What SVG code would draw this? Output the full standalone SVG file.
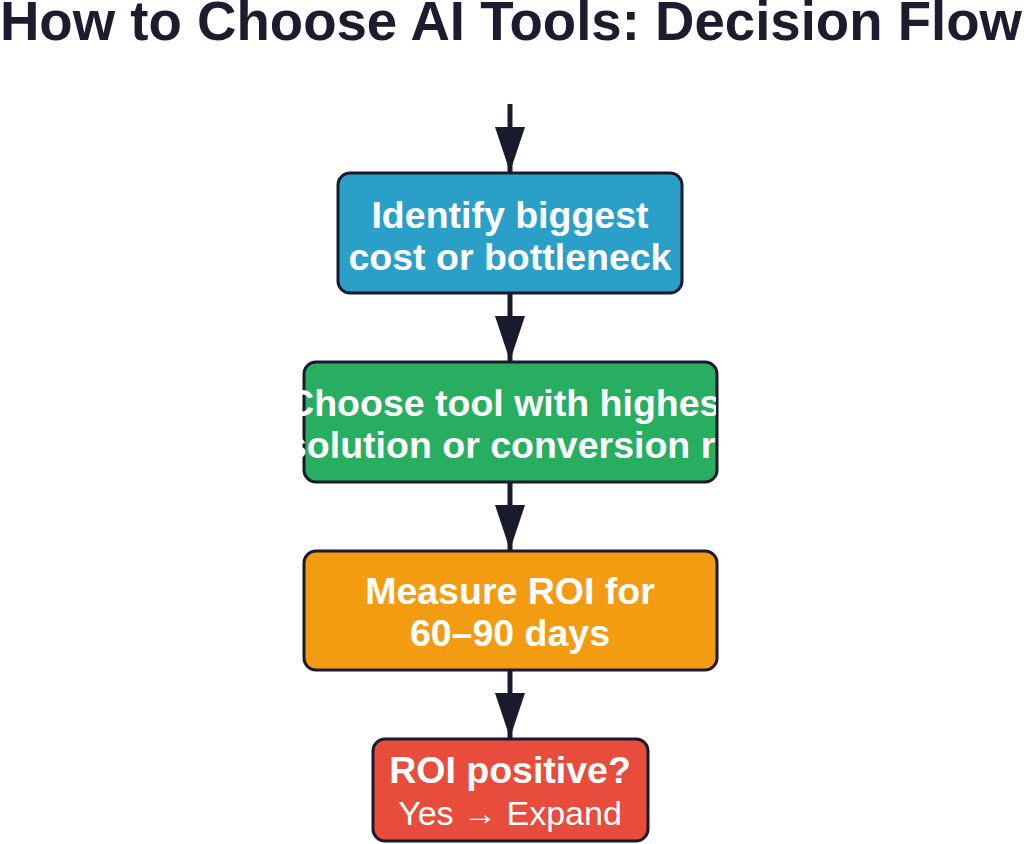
<svg xmlns="http://www.w3.org/2000/svg" width="1024" height="844" viewBox="0 0 1024 844">
<style>
.title{font-family:"Liberation Sans",Arial,sans-serif;font-weight:bold;font-size:54.6px;fill:#1c1c2e}
.box{stroke:#1a1a2e;stroke-width:3}
.lbl{font-family:"Liberation Sans",Arial,sans-serif;font-weight:bold;font-size:37.5px;fill:#ffffff;text-anchor:middle}
.lblr{font-family:"Liberation Sans",Arial,sans-serif;font-size:34px;fill:#ffffff;text-anchor:middle}
.edge{stroke:#1a1a2e;stroke-width:5;fill:none}
</style>
<defs>
<marker id="arrow" viewBox="0 0 45 30" refX="45" refY="15" markerWidth="45" markerHeight="30" markerUnits="userSpaceOnUse" orient="auto">
<path d="M0,0 L45,15 L0,30 Z" fill="#1a1a2e"/>
</marker>
<clipPath id="clip2"><rect x="292" y="362" width="424" height="120"/></clipPath>
</defs>
<rect width="1024" height="844" fill="#ffffff"/>
<text class="title" x="511" y="40" text-anchor="middle">How to Choose AI Tools: Decision Flow</text>
<g id="connectors">
<line class="edge" x1="510" y1="104" x2="510" y2="172" marker-end="url(#arrow)"/>
<line class="edge" x1="510" y1="293" x2="510" y2="361" marker-end="url(#arrow)"/>
<line class="edge" x1="510" y1="482" x2="510" y2="550" marker-end="url(#arrow)"/>
<line class="edge" x1="510" y1="670" x2="510" y2="738" marker-end="url(#arrow)"/>
</g>
<g id="node1">
<rect class="box" x="338" y="173" width="344" height="120" rx="12" fill="#2aa0c8"/>
<text class="lbl" x="510" y="228">Identify biggest</text>
<text class="lbl" x="510" y="270">cost or bottleneck</text>
</g>
<g id="node2">
<rect class="box" x="304" y="362" width="413" height="120" rx="12" fill="#27ae60"/>
<g clip-path="url(#clip2)">
<text class="lbl" x="510" y="416">Choose tool with highest</text>
<text class="lbl" x="510" y="458">resolution or conversion rate</text>
</g>
</g>
<g id="node3">
<rect class="box" x="304" y="551" width="413" height="119" rx="12" fill="#f39c12"/>
<text class="lbl" x="510" y="604">Measure ROI for</text>
<text class="lbl" x="510" y="646">60–90 days</text>
</g>
<g id="node4">
<rect class="box" x="373" y="739" width="275" height="102" rx="12" fill="#e74c3c"/>
<text class="lbl" x="510" y="783">ROI positive?</text>
<text class="lblr" x="510" y="825">Yes → Expand</text>
</g>
</svg>
